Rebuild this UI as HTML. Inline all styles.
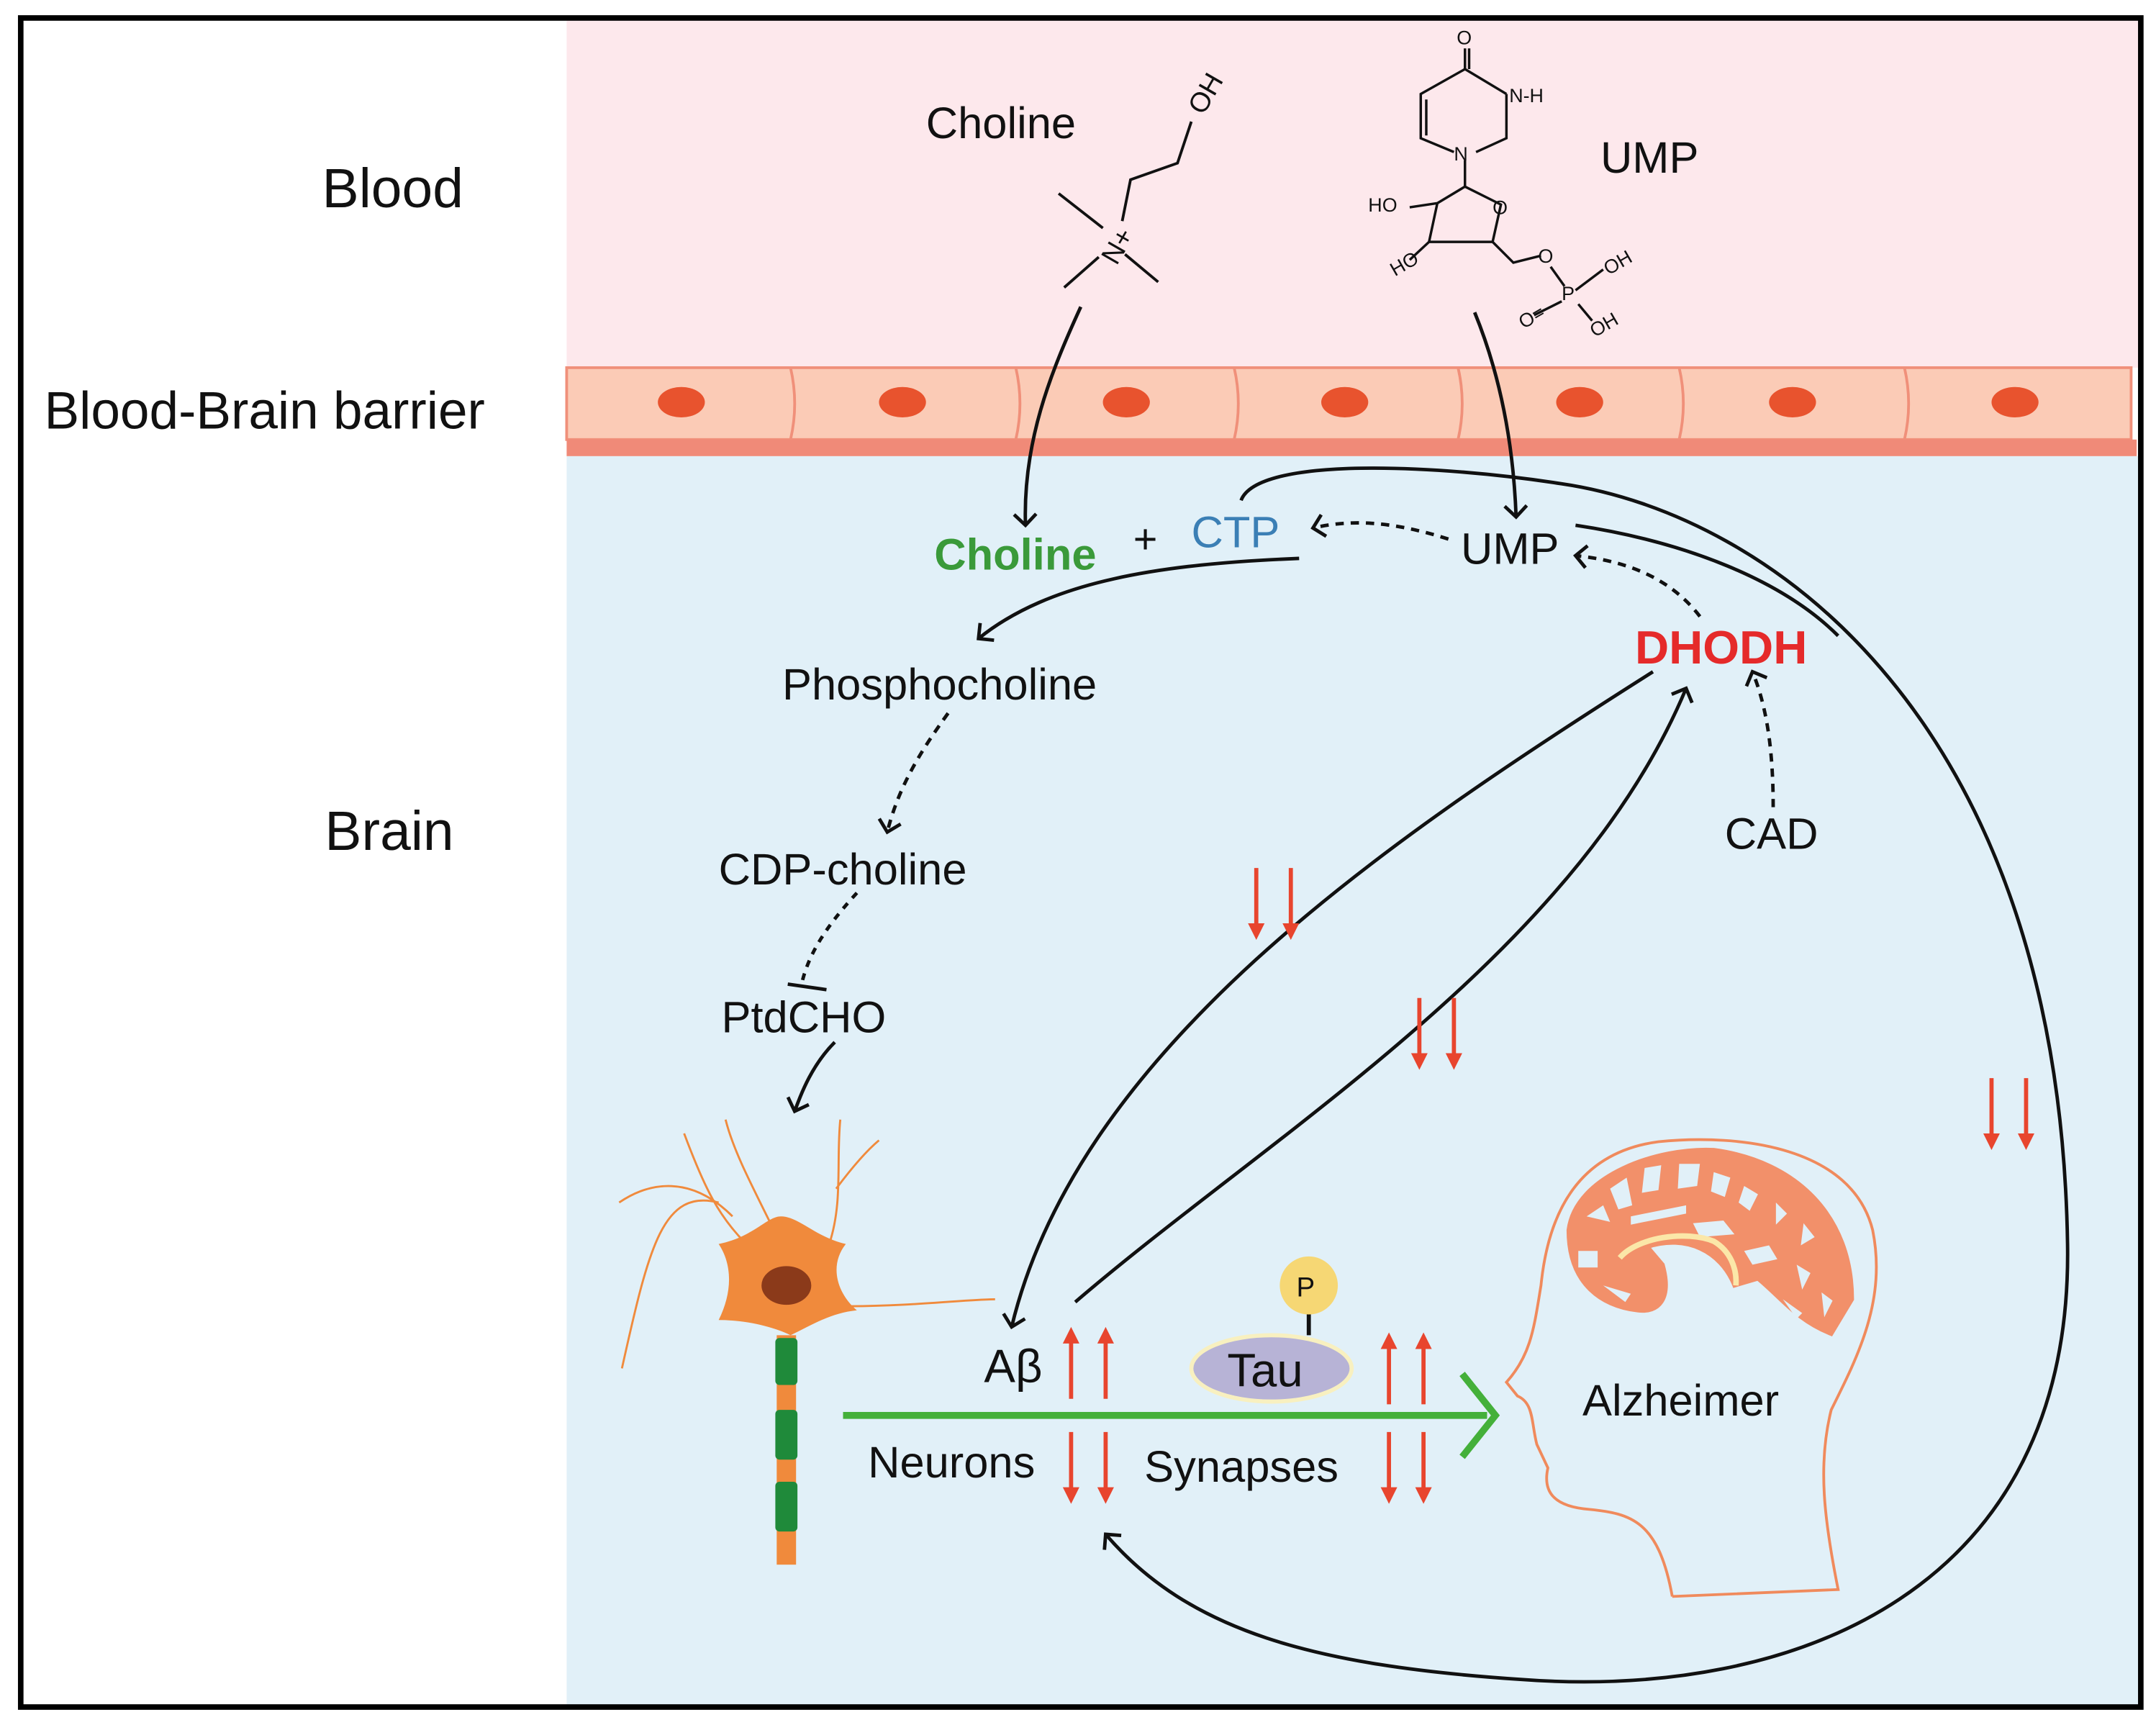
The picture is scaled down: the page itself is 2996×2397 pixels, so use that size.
<!DOCTYPE html>
<html><head><meta charset="utf-8"><style>
html,body{margin:0;padding:0;background:#fff}
svg{display:block}
text{font-family:"Liberation Sans",sans-serif}
</style></head><body>
<svg width="2996" height="2397" viewBox="0 0 1560 1248" preserveAspectRatio="none" xmlns="http://www.w3.org/2000/svg">
<defs>
<marker id="ah" viewBox="0 0 20 20" refX="10" refY="10" markerWidth="20" markerHeight="20" markerUnits="userSpaceOnUse" orient="auto">
<path d="M2,2 L10,10 L2,18" fill="none" stroke="#111" stroke-width="2.5"/>
</marker>
<marker id="ra" viewBox="0 0 10 10" refX="5" refY="5" markerWidth="12" markerHeight="14" markerUnits="userSpaceOnUse" orient="auto">
<path d="M0,0 L10,5 L0,10 z" fill="#e8452e"/>
</marker>
</defs>
<rect x="0" y="0" width="1560" height="1248" fill="#fff"/>
<rect x="410" y="14" width="1138" height="252" fill="#fde8ec"/>
<rect x="410" y="330" width="1138" height="904" fill="#e1f0f8"/>
<!-- BBB -->
<rect x="410" y="266" width="1132" height="52" fill="#fbcbb6" stroke="#f0907a" stroke-width="2"/>
<rect x="410" y="318" width="1136" height="12" fill="#f08a78"/>
<g stroke="#f0907a" stroke-width="2" fill="none">
<path d="M572,266 q6,26 0,52 M735,266 q6,26 0,52 M893,266 q6,26 0,52 M1055,266 q6,26 0,52 M1215,266 q6,26 0,52 M1378,266 q6,26 0,52"/>
</g>
<g fill="#e8532e">
<ellipse cx="493" cy="291" rx="17" ry="11"/><ellipse cx="653" cy="291" rx="17" ry="11"/><ellipse cx="815" cy="291" rx="17" ry="11"/><ellipse cx="973" cy="291" rx="17" ry="11"/><ellipse cx="1143" cy="291" rx="17" ry="11"/><ellipse cx="1297" cy="291" rx="17" ry="11"/><ellipse cx="1458" cy="291" rx="17" ry="11"/>
</g>
<rect x="15" y="13" width="1534" height="1222" fill="none" stroke="#000" stroke-width="4"/>
<!-- labels -->
<text x="233" y="150" font-size="40" fill="#111">Blood</text>
<text x="32" y="310" font-size="38" fill="#111">Blood-Brain barrier</text>
<text x="235" y="615" font-size="40" fill="#111">Brain</text>
<text x="670" y="100" font-size="32" fill="#111">Choline</text>
<text x="1158" y="125" font-size="32" fill="#111">UMP</text>
<!-- choline structure -->
<g stroke="#111" stroke-width="2" fill="none">
<path d="M766,140 L798,165 M812,160 L818,130 L852,118 L862,88 M770,208 L795,186 M814,184 L838,204"/>
</g>
<text x="796" y="188" font-size="20" fill="#111" transform="rotate(-60 806 180)">N+</text>
<text x="858" y="82" font-size="20" fill="#111" transform="rotate(-60 866 72)">OH</text>
<!-- UMP structure -->
<g stroke="#111" stroke-width="1.8" fill="none">
<path d="M1060,35 L1060,50 M1063,35 L1063,50 M1060,50 L1028,68 L1028,100 L1052,110 M1060,50 L1090,68 M1090,68 L1090,100 L1068,110 M1032,72 L1032,98 M1060,116 L1060,135 L1040,147 L1034,175 L1080,175 L1086,148 L1060,135 M1020,150 L1040,147 M1034,175 L1020,188 M1080,175 L1095,190 L1115,185 M1122,193 L1132,207 M1140,210 L1160,195 M1130,218 L1110,228 M1142,220 L1152,232"/>
</g>
<g font-size="14" fill="#111">
<text x="1054" y="32">O</text><text x="1092" y="74">N-H</text><text x="1052" y="116">N</text><text x="1080" y="155">O</text>
<text x="990" y="153">HO</text><text x="1005" y="196" transform="rotate(-30 1015 190)">HO</text><text x="1113" y="190">O</text><text x="1130" y="217">P</text><text x="1160" y="195" transform="rotate(-30 1170 190)">OH</text><text x="1098" y="234" transform="rotate(-30 1108 228)">O=</text><text x="1150" y="240" transform="rotate(-30 1160 235)">OH</text>
</g>
<!-- brain pathway texts -->
<text x="676" y="412" font-size="32" font-weight="bold" fill="#3a9a3a">Choline</text>
<text x="820" y="400" font-size="30" fill="#111">+</text>
<text x="862" y="396" font-size="32" fill="#3b7fb5">CTP</text>
<text x="1057" y="408" font-size="32" fill="#111">UMP</text>
<text x="1183" y="480" font-size="34" font-weight="bold" fill="#e52a2a">DHODH</text>
<text x="566" y="506" font-size="32" fill="#111">Phosphocholine</text>
<text x="520" y="640" font-size="32" fill="#111">CDP-choline</text>
<text x="522" y="747" font-size="32" fill="#111">PtdCHO</text>
<text x="1248" y="614" font-size="32" fill="#111">CAD</text>
<text x="712" y="1000" font-size="34" fill="#111">Aβ</text>
<text x="628" y="1069" font-size="32" fill="#111">Neurons</text>
<text x="828" y="1072" font-size="32" fill="#111">Synapses</text>
<text x="1145" y="1024" font-size="32" fill="#111">Alzheimer</text>
<!-- arrows -->
<g stroke="#111" stroke-width="2.5" fill="none">
<path d="M782,222 C760,270 740,320 742,380" marker-end="url(#ah)"/>
<path d="M1067,226 C1085,270 1095,320 1097,374" marker-end="url(#ah)"/>
<path d="M940,404 C840,408 760,420 708,462" marker-end="url(#ah)"/>
<path d="M1048,390 C1010,378 980,375 950,382" stroke-dasharray="6,5" marker-end="url(#ah)"/>
<path d="M1230,446 C1210,420 1180,406 1140,402" stroke-dasharray="6,5" marker-end="url(#ah)"/>
<path d="M1283,584 C1283,550 1280,515 1268,486" stroke-dasharray="6,5" marker-end="url(#ah)"/>
<path d="M686,516 C665,545 650,570 642,602" stroke-dasharray="6,5" marker-end="url(#ah)"/>
<path d="M620,646 C598,670 585,690 580,712" stroke-dasharray="5,5"/>
<path d="M570,712 L598,716"/>
<path d="M604,754 C588,770 580,790 575,804" marker-end="url(#ah)"/>
<path d="M1196,486 C1000,610 780,760 732,960" marker-end="url(#ah)"/>
<path d="M778,942 C920,820 1140,690 1220,498" marker-end="url(#ah)"/>
<path d="M898,362 C910,330 1040,336 1130,350 C1280,372 1490,520 1496,900 C1500,1150 1300,1230 1100,1215 C950,1205 860,1180 800,1110" marker-end="url(#ah)"/>
<path d="M1140,380 C1220,392 1290,420 1330,460"/>
</g>
<!-- green arrow -->
<line x1="610" y1="1024" x2="1076" y2="1024" stroke="#44b03a" stroke-width="5"/>
<path d="M1058,994 L1082,1024 L1058,1054" fill="none" stroke="#44b03a" stroke-width="5"/>
<!-- neuron -->
<g stroke="#f08a3c" stroke-width="1.5" fill="none">
<path d="M540,900 C520,880 510,860 495,820 M520,870 C480,860 470,900 450,990 M530,880 C500,850 470,855 448,870 M600,900 C610,870 605,840 608,810 M605,860 C620,840 630,830 636,825 M560,890 C540,850 530,830 525,810 M615,945 C660,945 700,940 720,940"/>
</g>
<path d="M520,900 C545,895 555,880 565,880 C578,880 590,895 612,900 C600,915 605,935 620,948 C600,950 585,960 572,966 C560,960 540,955 520,955 C530,935 530,915 520,900 z" fill="#f08a3c"/>
<ellipse cx="569" cy="930" rx="18" ry="14" fill="#8b3a1a"/>
<rect x="562" y="966" width="14" height="166" fill="#f08a3c"/>
<g fill="#1f8a3a"><rect x="561" y="968" width="16" height="34" rx="3"/><rect x="561" y="1020" width="16" height="36" rx="3"/><rect x="561" y="1072" width="16" height="36" rx="3"/></g>
<!-- tau -->
<ellipse cx="920" cy="990" rx="58" ry="24" fill="#b7b3d6" stroke="#f8f0c0" stroke-width="3"/>
<text x="888" y="1003" font-size="34" fill="#111">Tau</text>
<line x1="947" y1="950" x2="947" y2="966" stroke="#111" stroke-width="3"/>
<circle cx="947" cy="930" r="21" fill="#f6d774"/>
<text x="938" y="938" font-size="20" fill="#111">P</text>
<!-- red arrows -->
<g stroke="#e8452e" stroke-width="3" marker-end="url(#ra)">
<line x1="775" y1="1012" x2="775" y2="966"/><line x1="800" y1="1012" x2="800" y2="966"/>
<line x1="775" y1="1036" x2="775" y2="1082"/><line x1="800" y1="1036" x2="800" y2="1082"/>
<line x1="1005" y1="1016" x2="1005" y2="970"/><line x1="1030" y1="1016" x2="1030" y2="970"/>
<line x1="1005" y1="1036" x2="1005" y2="1082"/><line x1="1030" y1="1036" x2="1030" y2="1082"/>
<line x1="909" y1="628" x2="909" y2="674"/><line x1="934" y1="628" x2="934" y2="674"/>
<line x1="1027" y1="722" x2="1027" y2="768"/><line x1="1052" y1="722" x2="1052" y2="768"/>
<line x1="1441" y1="780" x2="1441" y2="826"/><line x1="1466" y1="780" x2="1466" y2="826"/>
</g>
<!-- head -->
<path d="M1210,1155 L1330,1150 C1320,1100 1315,1060 1325,1020 C1345,980 1365,940 1355,890 C1340,830 1260,820 1200,826 C1140,834 1120,880 1115,930 C1110,960 1108,980 1090,1000 L1098,1010 C1110,1015 1108,1030 1112,1045 L1120,1062 C1116,1080 1125,1090 1150,1092 C1180,1095 1200,1100 1210,1155" fill="none" stroke="#f08a5c" stroke-width="2"/>
<path d="M1135,890 C1140,850 1200,830 1240,832 C1300,840 1340,880 1340,940 L1325,965 C1300,955 1290,940 1272,925 L1255,930 C1245,905 1220,893 1192,902 L1203,915 C1210,940 1200,950 1185,948 C1160,945 1135,930 1135,890 z" fill="#f2906a" stroke="#f2906a" stroke-width="3"/>
<g fill="#e1f0f8">
<path d="M1148,880 l12,-8 l5,12 z"/><path d="M1165,860 l12,-8 l4,20 l-10,3 z"/><path d="M1190,845 l12,-2 l-2,18 l-12,2 z"/><path d="M1215,842 l15,0 l-2,16 l-14,2 z"/>
<path d="M1240,848 l12,4 l-4,14 l-10,-4 z"/><path d="M1262,858 l10,6 l-6,12 l-8,-6 z"/><path d="M1285,870 l8,8 l-8,8 z"/><path d="M1305,885 l8,10 l-10,6 z"/>
<path d="M1142,905 l14,0 l0,12 l-14,0 z"/><path d="M1160,930 l20,6 l-4,6 z"/><path d="M1225,885 l22,-2 l8,10 l-25,2 z"/><path d="M1262,905 l18,-4 l6,10 l-18,4 z"/>
<path d="M1300,915 l10,6 l-6,12 z"/><path d="M1318,935 l8,6 l-6,12 z"/><path d="M1290,940 l14,10 l-4,4 z"/><path d="M1180,880 l40,-8 l0,6 l-40,8 z"/>
</g>
<path d="M1172,910 C1185,895 1220,890 1240,898 C1252,905 1257,918 1256,930" fill="none" stroke="#fbe7a8" stroke-width="4"/>
</svg>
</body></html>
